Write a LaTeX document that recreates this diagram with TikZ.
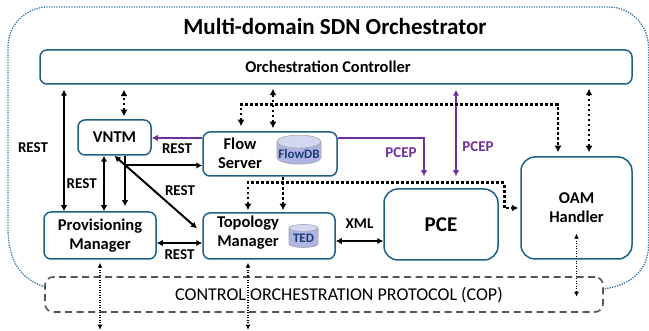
\documentclass[tikz,border=0pt]{standalone}
\usepackage{fontspec}
\setmainfont{Carlito}
\usetikzlibrary{arrows.meta,shapes.geometric}

\definecolor{boxblue}{RGB}{31,96,136}
\definecolor{pcep}{RGB}{112,48,160}
\definecolor{domline}{RGB}{60,120,160}
\definecolor{copgray}{RGB}{85,85,85}
\definecolor{dbbody}{RGB}{176,180,228}
\definecolor{dbend}{RGB}{212,215,242}
\definecolor{dbtext}{RGB}{30,60,120}

\tikzset{
  blk/.style={draw=boxblue, line width=1.5pt, rounded corners=7pt, fill=white, inner sep=0pt,
    font=\bfseries\fontsize{16.5}{19}\selectfont, align=center},
  lbl/.style={font=\bfseries\fontsize{16.5}{19}\selectfont, align=center},
  db/.style={cylinder, shape border rotate=90, aspect=0.3, draw=gray!70, line width=0.6pt,
    cylinder uses custom fill, cylinder body fill=dbbody, cylinder end fill=dbend,
    text=dbtext, font=\bfseries\fontsize{13}{15}\selectfont, inner sep=1pt},
  tag/.style={font=\bfseries\fontsize{15}{17}\selectfont},
  rest/.style={line width=2pt, >={Latex[length=6pt,width=6.5pt]}},
  pcep/.style={rest, draw=pcep},
  ctl/.style={line width=2.8pt, dash pattern=on 2.8pt off 2.2pt, >={Latex[length=6.5pt,width=7pt]}},
  cop/.style={line width=1.1pt, dash pattern=on 1.2pt off 1.3pt, >={Latex[length=5pt,width=5pt]}},
  dom/.style={draw=domline, line width=1.3pt, dash pattern=on 1.3pt off 1.2pt},
}

\begin{document}
\begin{tikzpicture}[x=1pt,y=-1pt]
\useasboundingbox (0,0) rectangle (649,331);

% orchestrator domain
\draw[dom] (45,287) .. controls (20,279) and (8,260) .. (8,228) -- (8,47)
  arc[start angle=180, end angle=270, radius=40] -- (608.5,7)
  arc[start angle=270, end angle=360, radius=40] -- (648.5,245)
  .. controls (648.5,272) and (628,286) .. (603,289);
\node[font=\bfseries\fontsize{23}{26}\selectfont] (title) at (335,27) {Multi-domain SDN Orchestrator};

% blocks
\node[blk, minimum width=592pt, minimum height=34pt] (ctrl) at (336,67) {};
\node[font=\bfseries\fontsize{16.4}{18}\selectfont] (ctrltxt) at (328,67) {Orchestration Controller};
\node[blk, minimum width=73pt, minimum height=35pt] (vntm) at (114.5,137.5) {VNTM};
\node[blk, minimum width=134pt, minimum height=44pt] (flow) at (270,154) {};
\node[lbl] (flowtxt) at (240,153) {Flow\\Server};
\node[db, minimum height=27pt, minimum width=44pt] (flowdb) at (299,154) {FlowDB};
\node[blk, minimum width=112pt, minimum height=47pt] (prov) at (100,235.5) {Provisioning\\Manager};
\node[blk, minimum width=132pt, minimum height=46pt] (topo) at (269,236) {};
\node[lbl] (topotxt) at (248,233) {Topology\\Manager};
\node[db, minimum height=23pt, minimum width=29pt] (ted) at (303.5,238.5) {TED};
\node[blk, rounded corners=14pt, minimum width=114pt, minimum height=71pt, font=\bfseries\fontsize{21}{24}\selectfont] (pce) at (441,224.5) {PCE};
\node[blk, rounded corners=14pt, minimum width=111pt, minimum height=102pt] (oam) at (576.5,208) {OAM\\Handler};
\node[draw=copgray, line width=1.6pt, dash pattern=on 7pt off 4.5pt, rounded corners=8pt, fill=white,
  minimum width=558pt, minimum height=35pt] (cop) at (324,294.5) {};
\node[font=\fontsize{18}{20}\selectfont] (coptxt) at (339,295) {CONTROL ORCHESTRATION PROTOCOL (COP)};

% REST interfaces
\draw[rest,<->,shorten >=5pt] ([xshift=-36pt]prov.north) -- ([xshift=-36pt]prov.north |- ctrl.south);
\node[tag] (rest1) at (33,148) {REST};
\draw[rest,<->] ([xshift=-10.5pt]vntm.south) -- ([xshift=-10.5pt]vntm.south |- prov.north)
  node[midway,left=3pt,tag] (rest2) {REST};
\draw[rest,->,shorten >=5pt] ([xshift=10.5pt]vntm.south) -- ([xshift=10.5pt]vntm.south |- prov.north);
\draw[rest,->] ([xshift=10.5pt]vntm.south) |- ([yshift=-11.5pt]flow.west);
\draw[rest,<->,shorten >=7pt] (vntm.south) -- ([yshift=3pt]topo.west);
\node[tag] (rest3) at (180,191) {REST};
\draw[rest,<->] ([yshift=-7.5pt]prov.east) -- ([yshift=-7.5pt]prov.east -| topo.west)
  node[midway,below=2pt,tag] (rest4) {REST};
\draw[rest,<->] ([yshift=-5pt]topo.east) -- ([yshift=-5pt]topo.east -| pce.west)
  node[midway,above=8pt,tag] (xml) {XML};

% PCEP
\draw[pcep,->] ([yshift=16pt]flow.west) -- ([yshift=16pt]flow.west -| vntm.east)
  node[midway,below=1pt,tag] (rest5) {REST};
\draw[pcep,->,shorten >=12pt] ([yshift=16pt]flow.east) -| ([xshift=-17pt]pce.north);
\node[tag,text=pcep] (pcep1) at (401,153) {PCEP};
\draw[pcep,<->,shorten <=5pt,shorten >=12pt] ([xshift=15pt]pce.north |- ctrl.south) -- ([xshift=15pt]pce.north);
\node[tag,text=pcep] (pcep2) at (478,147) {PCEP};

% control links
\draw[ctl,<->,shorten <=3pt,shorten >=5pt] ([xshift=9.5pt]vntm.north) -- ([xshift=9.5pt]vntm.north |- ctrl.south);
\draw[ctl,<->,shorten <=3pt,shorten >=4pt] ([xshift=3pt]flow.north) -- ([xshift=3pt]flow.north |- ctrl.south);
\draw[ctl,<->,shorten <=5pt,shorten >=4pt] ([xshift=-29pt]flow.north) |- ([yshift=-20pt]ctrl.south) -| ([xshift=-18.5pt]oam.north);
\draw[ctl,<->,shorten <=4pt,shorten >=4pt] ([xshift=12.5pt]oam.north) -- ([xshift=12.5pt]oam.north |- ctrl.south);
\draw[ctl,->,shorten >=2pt] ([xshift=13pt]flow.south) -- ([xshift=13pt]flow.south |- topo.north);
\draw[ctl,<->,shorten <=2pt,shorten >=2pt] ([xshift=-21pt]topo.north) |- ([yshift=-6pt]flow.south)
  -| ([xshift=-16pt]oam.west) -- (oam.west);

% towards the domains
\coordinate (provdn) at ([yshift=-70pt]prov.south);
\coordinate (topodn) at ([xshift=-21pt,yshift=-70pt]topo.south);
\coordinate (oamup) at ([yshift=26pt]oam.south);
\coordinate (oamdn) at ([yshift=-37pt]oam.south);
\draw[cop,<->,shorten <=3pt] (prov.south) -- (provdn);
\draw[cop,<->,shorten <=3pt] ([xshift=-21pt]topo.south) -- (topodn);
\draw[cop,<->] (oamup) -- (oamdn);
\end{tikzpicture}
\end{document}
